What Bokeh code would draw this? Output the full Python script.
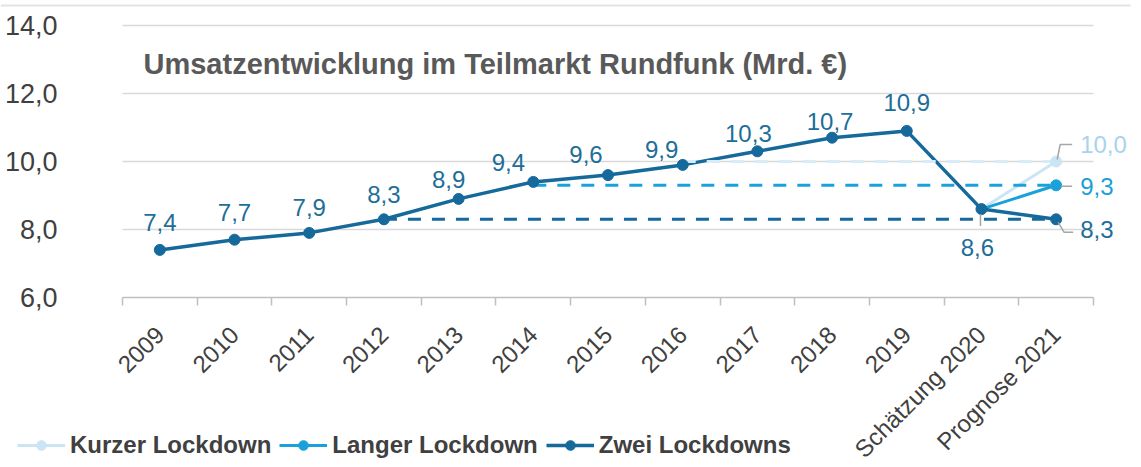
import math
from bokeh.plotting import figure
from bokeh.models import (Range1d, FixedTicker, Label, LabelSet, Legend, LegendItem,
                          ColumnDataSource)
from bokeh.core.properties import value
from bokeh.embed import file_html
from bokeh.resources import INLINE

# ---------------- data ----------------
categories = ["2009", "2010", "2011", "2012", "2013", "2014", "2015", "2016",
              "2017", "2018", "2019", "Schätzung 2020", "Prognose 2021"]
zwei_lockdowns = [7.4, 7.7, 7.9, 8.3, 8.9, 9.4, 9.6, 9.9, 10.3, 10.7, 10.9, 8.6, 8.3]
scenario_categories = ["Schätzung 2020", "Prognose 2021"]
langer_lockdown = [8.6, 9.3]
kurzer_lockdown = [8.6, 10.0]
series_names = ["Kurzer Lockdown", "Langer Lockdown", "Zwei Lockdowns"]
# dashed reference levels (2021 forecast, drawn back to the year it was reached)
ref_from = ["2016", "2014", "2012"]
ref_values = [10.0, 9.3, 8.3]
y_ticks = [6, 8, 10, 12, 14]
y_tick_labels = ["6,0", "8,0", "10,0", "12,0", "14,0"]
title_text = "Umsatzentwicklung im Teilmarkt Rundfunk (Mrd. €)"

# ---------------- style ----------------
FONT = "Liberation Sans"
DARK = "#15699B"
MID = "#1BA1DA"
LIGHT = "#CCE5F5"
LIGHT_DASH = "#D8ECF8"
LAB_DARK = "#1D6E98"
LAB_MID = "#1C9FD7"
LAB_LIGHT = "#A9D3EC"
GRID = "#D9D9D9"
AXIS = "#BFBFBF"
TEXT = "#404040"
LEADER = "#A6A6A6"
TOPLINE = "#E3E3E3"

W, H = 1133, 465
PLOT_W, PLOT_H = 971, 272          # size of the value area
LEFT, TOP = 122, 25                 # its offset inside the canvas
RIGHT, BOTTOM = W - LEFT - PLOT_W, H - TOP - PLOT_H
Y0, Y1 = 6, 14
N = len(categories)
XS = PLOT_W / N                     # px per category
YS = PLOT_H / (Y1 - Y0)             # px per unit

def fmt(v):
    return f"{v:.1f}".replace(".", ",")

pos = {c: i + 0.5 for i, c in enumerate(categories)}
x_all = [pos[c] for c in categories]
x_scen = [pos[c] for c in scenario_categories]

XMIN, XMAX = -LEFT / XS, N + RIGHT / XS
YMIN, YMAX = Y0 - BOTTOM / YS, Y1 + TOP / YS
p = figure(width=W, height=H, output_backend="svg", toolbar_location=None,
           title=None, min_border=0,
           x_range=Range1d(XMIN, XMAX), y_range=Range1d(YMIN, YMAX))
p.outline_line_color = None
p.background_fill_color = "white"
p.border_fill_color = "white"
p.xgrid.visible = False
p.ygrid.visible = False

# thin frame line along the top of the picture
p.segment(x0=XMIN, x1=XMAX - 3 / XS, y0=YMAX - 5 / YS, y1=YMAX - 5 / YS,
          line_color=TOPLINE, line_width=2)

# axes, pinned to the value area
xa = p.xaxis[0]
xa.fixed_location = Y0
xa.bounds = (0, N)
xa.ticker = FixedTicker(ticks=x_all, minor_ticks=list(range(N + 1)))
xa.major_label_overrides = {pos[c]: c for c in categories}
xa.major_tick_out = 0
xa.major_tick_in = 0
xa.major_tick_line_color = None
xa.minor_tick_line_color = AXIS
xa.minor_tick_out = 8
xa.minor_tick_in = 0
xa.minor_tick_line_width = 1.5
xa.axis_line_color = AXIS
xa.axis_line_width = 1.5
xa.major_label_orientation = math.pi / 4
xa.major_label_text_font = FONT
xa.major_label_text_font_size = "24px"
xa.major_label_text_color = TEXT
xa.major_label_standoff = 25

ya = p.yaxis[0]
ya.fixed_location = 0
ya.bounds = (Y0, Y1)
ya.ticker = FixedTicker(ticks=y_ticks)
ya.major_label_overrides = dict(zip(y_ticks, y_tick_labels))
ya.axis_line_color = None
ya.major_tick_line_color = None
ya.minor_tick_line_color = None
ya.major_label_standoff = 59
ya.major_label_text_font = FONT
ya.major_label_text_font_size = "27px"
ya.major_label_text_color = TEXT

# horizontal grid lines across the category span
p.segment(x0=0, x1=N, y0=y_ticks[1:], y1=y_ticks[1:], line_color=GRID, line_width=1.5)

# lines
kurzer_line = p.line(x_scen, kurzer_lockdown, line_color=LIGHT, line_width=3)
langer_line = p.line(x_scen, langer_lockdown, line_color=MID, line_width=3)
zwei_line = p.line(x_all, zwei_lockdowns, line_color=DARK, line_width=3.5)

# dashed reference lines
for start, val, col in zip(ref_from, ref_values, [LIGHT_DASH, MID, DARK]):
    p.line([pos[start], pos[categories[-1]]], [val, val], line_color=col,
           line_width=3, line_dash="13 11")

# markers
kurzer_pts = p.scatter(x_scen[1:], kurzer_lockdown[1:], marker="circle", size=11,
                       fill_color=LIGHT, line_color=LIGHT)
langer_pts = p.scatter(x_scen[1:], langer_lockdown[1:], marker="circle", size=11,
                       fill_color=MID, line_color=MID)
zwei_pts = p.scatter(x_all, zwei_lockdowns, marker="circle", size=11,
                     fill_color=DARK, line_color=DARK)

# leader lines (pixel offsets from the point: right, up)
leader_specs = [
    (pos[categories[-1]], kurzer_lockdown[-1], [(1, 2), (4, 17), (16, 17)]),
    (pos[categories[-1]], langer_lockdown[-1], [(5, -1), (16, -1)]),
    (pos[categories[-1]], zwei_lockdowns[-1], [(2, -3), (8, -13), (17, -13)]),
    (pos[categories[-2]], zwei_lockdowns[-2], [(-1, -5), (-1, -17)]),
]
lx, ly = [], []
for x0, y0, path in leader_specs:
    lx.append([x0 + dx / XS for dx, _ in path])
    ly.append([y0 + dy / YS for _, dy in path])
p.multi_line(lx, ly, line_color=LEADER, line_width=1.5)

# value labels above/below the main series
n_hist = N - 1
lab_dx = [0, 0, 0, 0, -10, -25, -22, -21, -9, -2, 0, -4]
lab_dy = [27, 27, 25, 25, 19, 19, 21, 15, 18, 16, 28, -38]
lab_src = ColumnDataSource(dict(
    x=x_all[:n_hist], y=zwei_lockdowns[:n_hist],
    t=[fmt(v) for v in zwei_lockdowns[:n_hist]], dx=lab_dx, dy=lab_dy))
p.add_layout(LabelSet(x="x", y="y", text="t", x_offset="dx", y_offset="dy",
                      source=lab_src, text_align="center", text_baseline="middle",
                      text_font=value(FONT), text_font_size="24px",
                      text_color=LAB_DARK))

# end labels at the right
end_vals = [kurzer_lockdown[-1], langer_lockdown[-1], zwei_lockdowns[-1]]
end_src = ColumnDataSource(dict(
    x=[pos[categories[-1]]] * 3, y=end_vals, t=[fmt(v) for v in end_vals],
    dy=[17, -1, -10], c=[LAB_LIGHT, LAB_MID, LAB_DARK]))
p.add_layout(LabelSet(x="x", y="y", text="t", x_offset=24, y_offset="dy",
                      source=end_src, text_align="left", text_baseline="middle",
                      text_font=value(FONT), text_font_size="24px", text_color="c"))

# title inside the plot
p.add_layout(Label(x=0, y=Y1, x_offset=21, y_offset=-38, text=title_text,
                   text_font=FONT, text_font_style="bold", text_font_size="29px",
                   text_color="#595959", text_baseline="alphabetic"))

# legend
legend = Legend(items=[
    LegendItem(label=series_names[0], renderers=[kurzer_line, kurzer_pts]),
    LegendItem(label=series_names[1], renderers=[langer_line, langer_pts]),
    LegendItem(label=series_names[2], renderers=[zwei_line, zwei_pts]),
], orientation="horizontal", location=(17, H - 459))
legend.border_line_color = None
legend.background_fill_alpha = 0
legend.padding = 0
legend.margin = 0
legend.spacing = 8
legend.glyph_width = 48
legend.glyph_height = 24
legend.label_height = 24
legend.label_standoff = 5
legend.label_text_font = FONT
legend.label_text_font_style = "bold"
legend.label_text_font_size = "24px"
legend.label_text_color = TEXT
p.add_layout(legend)

open("out.html", "w").write(file_html(p, INLINE))
